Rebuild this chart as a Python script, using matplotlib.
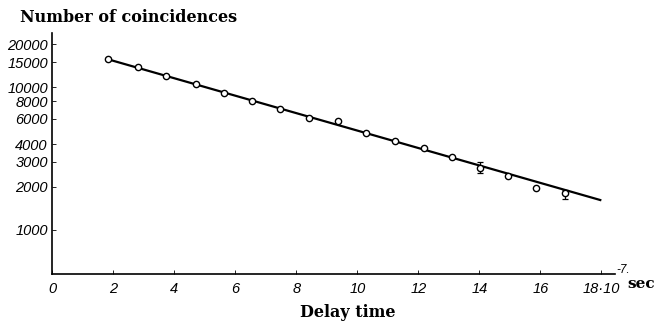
import matplotlib
matplotlib.use("Agg")
import matplotlib.pyplot as plt

# delay time (units of 1e-7 s) and number of coincidences
delay = [1.84, 2.82, 3.75, 4.71, 5.63, 6.56, 7.47, 8.43, 9.37, 10.28,
         11.23, 12.17, 13.09, 14.01, 14.94, 15.84, 16.79]
counts = [15880, 13870, 12000, 10500, 9180, 8070, 7020, 6100, 5810, 4750,
          4190, 3760, 3220, 2730, 2400, 1960, 1805]

# error bars drawn on two points only
err_x = [14.01, 16.79]
err_y = [2730, 1805]
err_lo = [225, 160]
err_hi = [260, 100]

# fitted straight line (log scale)
fit_x = [1.84, 17.96]
fit_y = [15700, 1620]

x_ticks = [0, 2, 4, 6, 8, 10, 12, 14, 16, 18]
x_labels = ["0", "2", "4", "6", "8", "10", "12", "14", "16", "18·10"]
y_ticks = [1000, 2000, 3000, 4000, 6000, 8000, 10000, 15000, 20000]
y_labels = ["1000", "2000", "3000", "4000", "6000", "8000", "10000", "15000", "20000"]

tick_font = dict(family=["Liberation Sans Narrow", "Liberation Sans", "DejaVu Sans"],
                 style="italic", size=10.5)
label_font = dict(family="DejaVu Serif", weight="bold", size=11.5)

fig = plt.figure(figsize=(6.58, 3.24), dpi=100)
ax = fig.add_axes([0.079, 0.154, 0.856, 0.744])

ax.plot(fit_x, fit_y, color="black", lw=1.6, zorder=2)
ax.errorbar(err_x, err_y, yerr=[err_lo, err_hi], fmt="none", ecolor="black",
            elinewidth=0.9, capsize=2, capthick=0.9, zorder=2)
ax.plot(delay, counts, "o", ms=4.5, mfc="white", mec="black", mew=1.0, zorder=3)

ax.set_yscale("log")
ax.set_xlim(0, 18.45)
ax.set_ylim(490, 24000)

ax.spines["top"].set_visible(False)
ax.spines["right"].set_visible(False)
ax.spines["left"].set_linewidth(1.2)
ax.spines["bottom"].set_linewidth(1.2)

ax.set_xticks(x_ticks)
ax.set_xticklabels(x_labels, **tick_font)
ax.set_yticks(y_ticks)
ax.set_yticklabels(y_labels, **tick_font)
ax.yaxis.set_minor_locator(matplotlib.ticker.NullLocator())
ax.tick_params(axis="both", direction="in", length=3, width=0.6, pad=6)
ax.tick_params(axis="y", pad=3)

fig.text(0.03, 0.945, "Number of coincidences", ha="left", va="center", **label_font)
fig.text(0.528, 0.035, "Delay time", ha="center", va="center", **label_font)
fig.text(0.953, 0.122, "sec", ha="left", va="center",
         family="DejaVu Serif", weight="bold", size=11)
fig.text(0.937, 0.168, "-7.", ha="left", va="center",
         family=["Liberation Sans", "DejaVu Sans"], style="italic", size=8.5)

fig.savefig("out.png", dpi=100)
